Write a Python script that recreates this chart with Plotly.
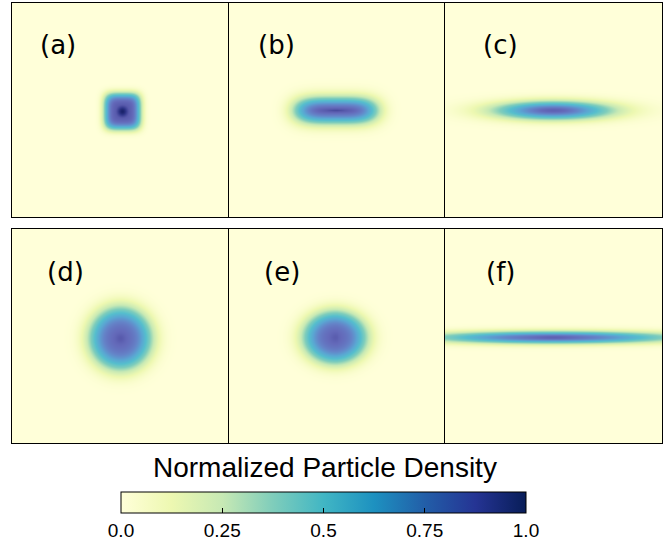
import numpy as np
import plotly.graph_objects as go

W, H = 669, 541


def py(ypix):
    return (H - ypix) / H


# panel parameters (in panel pixel units: x 0..217, y 0..214 from top)
panel_labels = ["(a)", "(b)", "(c)", "(d)", "(e)", "(f)"]
center_x = [110, 107, 108, 108, 106, 108]
center_y = [108, 107, 107, 109, 108, 108]
sigma_x = [18, 42, 58, 31, 32, 118]
sigma_y = [18, 13, 9, 31, 26, 6]
shape_p = [4, 4, 2, 3, 3, 2]
peaks = [0.78, 0.72, 0.70, 0.70, 0.70, 0.70]
core_peak = [0.2, 0.12, 0.05, 0.1, 0.08, 0.05]
core_sigma = [5, 2, 2, 5, 5, 2]

label_x = [58, 276, 500, 65, 282, 500]
label_y = [45, 45, 45, 272, 272, 272]

cbar_ticks = [0.0, 0.25, 0.5, 0.75, 1.0]
cbar_text = ["0.0", "0.25", "0.5", "0.75", "1.0"]

colorscale = [
    [0.0, "rgb(255,255,217)"], [0.125, "rgb(237,248,177)"], [0.25, "rgb(199,233,180)"],
    [0.375, "rgb(127,205,187)"], [0.5, "rgb(65,182,196)"], [0.625, "rgb(29,145,192)"],
    [0.75, "rgb(34,94,168)"], [0.875, "rgb(37,52,148)"], [1.0, "rgb(8,29,88)"],
]
# rendered appearance of the density fields (dithered, lavender-toned)
panel_scale = [
    [0.0, "rgb(255,255,217)"], [0.1, "rgb(237,248,177)"], [0.2, "rgb(199,233,180)"],
    [0.3, "rgb(127,205,187)"], [0.4, "rgb(85,190,205)"], [0.5, "rgb(90,165,210)"],
    [0.6, "rgb(100,132,200)"], [0.7, "rgb(100,106,186)"], [0.8, "rgb(88,90,172)"],
    [0.9, "rgb(50,56,140)"], [1.0, "rgb(20,30,100)"],
]

PW, PH = 217, 214
xs = np.arange(0, PW + 1, 1.0)
ys = np.arange(0, PH + 1, 1.0)
X, Y = np.meshgrid(xs, ys)

x_px = [(12, 229), (229, 445), (445, 662)]
y_px = [(3, 217), (229, 443)]

fig = go.Figure()
axkw = dict(showticklabels=False, showgrid=False, zeroline=False, ticks="",
            showline=True, mirror=True, linecolor="black", linewidth=1)
for i in range(6):
    r, c = divmod(i, 3)
    dx = np.abs(X - center_x[i]) / sigma_x[i]
    dy = np.abs(Y - center_y[i]) / sigma_y[i]
    p = shape_p[i]
    if i in (3, 4):
        z = peaks[i] * np.exp(-np.sqrt(dx**2 + dy**2) ** p)
    else:
        z = peaks[i] * np.exp(-(dx**p) - (dy**2 if i in (1, 2, 5) else dy**p))
    stretch = 8 if i in (1, 2, 5) else 1
    core = core_peak[i] * np.exp(-(((X - center_x[i]) / (core_sigma[i] * stretch)) ** 2
                                   + ((Y - center_y[i]) / core_sigma[i]) ** 2))
    z = np.round(np.clip(z + core, 0, 1), 3)
    n = i + 1
    xa = "x" if n == 1 else f"x{n}"
    ya = "y" if n == 1 else f"y{n}"
    fig.add_trace(go.Heatmap(
        z=z, x=xs, y=ys, xaxis=xa, yaxis=ya, zmin=0, zmax=1,
        colorscale=panel_scale, zsmooth="best", showscale=False, hoverinfo="skip",
    ))
    xk = "xaxis" if n == 1 else f"xaxis{n}"
    yk = "yaxis" if n == 1 else f"yaxis{n}"
    fig.update_layout({
        xk: dict(domain=[x_px[c][0] / W, x_px[c][1] / W], range=[0, PW], anchor=ya, **axkw),
        yk: dict(domain=[py(y_px[r][1]), py(y_px[r][0])], range=[PH, 0], anchor=xa, **axkw),
    })

# colour bar carrier (point sits outside the visible range)
fig.add_trace(go.Scatter(
    x=[-1000], y=[-1000], mode="markers", xaxis="x", yaxis="y", hoverinfo="skip",
    showlegend=False,
    marker=dict(color=[0.5], cmin=0, cmax=1, colorscale=colorscale, showscale=True,
                colorbar=dict(
                    orientation="h", x=323.5 / W, xanchor="center", y=py(492), yanchor="top",
                    lenmode="pixels", len=405, thickness=21, xpad=0, ypad=0,
                    outlinewidth=1, outlinecolor="black",
                    tickvals=cbar_ticks, ticktext=cbar_text, ticks="inside", ticklen=5,
                    tickcolor="black", tickfont=dict(family="Liberation Sans", size=19, color="black"),
                )),
))

annotations = []
for i in range(6):
    annotations.append(dict(
        text=panel_labels[i], x=label_x[i] / W, y=py(label_y[i]), xref="paper", yref="paper",
        xanchor="center", yanchor="middle", showarrow=False,
        font=dict(family="DejaVu Sans", size=26, color="black"),
    ))
annotations.append(dict(
    text="Normalized Particle Density", x=325 / W, y=py(467), xref="paper", yref="paper",
    xanchor="center", yanchor="middle", showarrow=False,
    font=dict(family="Liberation Sans", size=28, color="black"),
))

fig.update_layout(
    width=W, height=H, margin=dict(l=0, r=0, t=0, b=0, autoexpand=False),
    paper_bgcolor="white", plot_bgcolor="white", annotations=annotations,
)
fig.write_html("out.html")
